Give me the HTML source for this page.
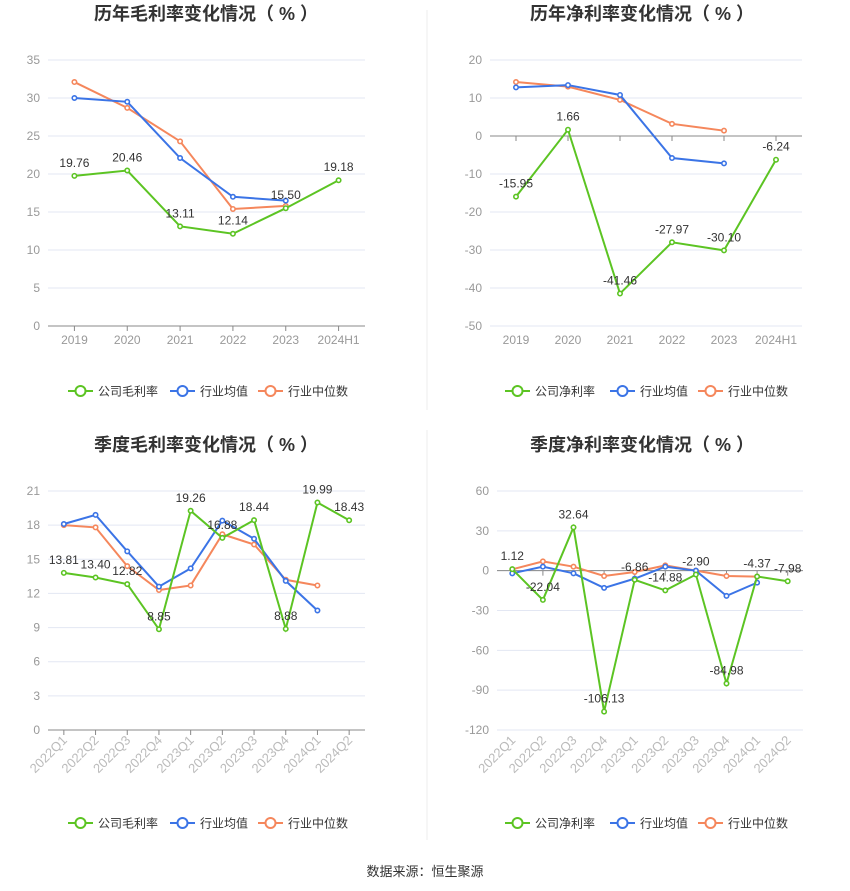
<!DOCTYPE html>
<html><head><meta charset="utf-8">
<style>
body{margin:0;background:#fff;font-family:"Liberation Sans","Noto Sans CJK SC",sans-serif;}
svg{display:block}
</style></head>
<body>
<svg id="s" width="850" height="891" xmlns="http://www.w3.org/2000/svg">
<line x1="427" y1="10" x2="427" y2="410" stroke="#eee"/>
<line x1="427" y1="430" x2="427" y2="840" stroke="#eee"/>
<text x="425" y="876" text-anchor="middle" font-size="13" fill="#333">数据来源：恒生聚源</text>
</svg>
<script>
const c1Cats=["2019","2020","2021","2022","2023","2024H1"];
const c1Company=[19.76,20.46,13.11,12.14,15.50,19.18];
const c1Avg=[30.0,29.5,22.1,17.0,16.5];
const c1Median=[32.1,28.7,24.3,15.4,15.8];
const c1Ticks=[0,5,10,15,20,25,30,35];

const c2Cats=["2019","2020","2021","2022","2023","2024H1"];
const c2Company=[-15.95,1.66,-41.46,-27.97,-30.10,-6.24];
const c2Avg=[12.8,13.4,10.8,-5.8,-7.2];
const c2Median=[14.2,13.0,9.5,3.2,1.4];
const c2Ticks=[-50,-40,-30,-20,-10,0,10,20];

const c3Cats=["2022Q1","2022Q2","2022Q3","2022Q4","2023Q1","2023Q2","2023Q3","2023Q4","2024Q1","2024Q2"];
const c3Company=[13.81,13.40,12.82,8.85,19.26,16.88,18.44,8.88,19.99,18.43];
const c3Avg=[18.1,18.9,15.7,12.6,14.2,18.4,16.8,13.1,10.5];
const c3Median=[18.0,17.8,14.4,12.3,12.7,17.2,16.3,13.2,12.7];
const c3Ticks=[0,3,6,9,12,15,18,21];

const c4Cats=["2022Q1","2022Q2","2022Q3","2022Q4","2023Q1","2023Q2","2023Q3","2023Q4","2024Q1","2024Q2"];
const c4Company=[1.12,-22.04,32.64,-106.13,-6.86,-14.88,-2.90,-84.98,-4.37,-7.98];
const c4Avg=[-2,3,-2,-13,-6,3,0,-19,-9];
const c4Median=[1,7,3,-4,-1,4,0,-4,-4.5];
const c4Ticks=[-120,-90,-60,-30,0,30,60];

const NS="http://www.w3.org/2000/svg";
const svg=document.getElementById('s');
const GREEN="#5cc423",BLUE="#3b74e6",ORANGE="#f5875c";
function mk(tag,attrs,parent){const e=document.createElementNS(NS,tag);for(const k in attrs)e.setAttribute(k,attrs[k]);(parent||svg).appendChild(e);return e;}

function chart(o){
  const g=mk('g',{});
  
  
  const t=mk('text',{x:o.cx,y:o.titleY,'text-anchor':'middle','font-size':18,'font-weight':'bold',fill:'#333'},g);
  t.textContent=o.title;
  
  
  const min=o.ticks[0],max=o.ticks[o.ticks.length-1];
  const y=v=>o.bottom-(v-min)/(max-min)*(o.bottom-o.top);
  const bw=(o.right-o.left)/o.cats.length;
  const x=i=>o.left+bw*(i+0.5);
  o.ticks.forEach(v=>{
    const l=mk('line',{x1:o.left,x2:o.right,y1:y(v),y2:y(v),stroke:'#e3e7f3'},g);
    
    
    const tx=mk('text',{x:o.left-8,y:y(v)+4,'text-anchor':'end','font-size':12,fill:'#999'},g);
    tx.textContent=v;
    
    
  });
  const zy=y(Math.max(min,0));
  const ax=mk('line',{x1:o.left,x2:o.right,y1:zy,y2:zy,stroke:'#888'},g);
  
  
  o.cats.forEach((c,i)=>{
    const tk=mk('line',{x1:x(i),x2:x(i),y1:zy,y2:zy+5,stroke:'#888'},g);
    
    
    let tx;
    if(o.rot){
      tx=mk('text',{x:x(i)+4,y:o.bottom+11,'text-anchor':'end','font-size':13,fill:'#bbb',transform:`rotate(-45 ${x(i)+4} ${o.bottom+11})`},g);
    }else{
      tx=mk('text',{x:x(i),y:o.bottom+18,'text-anchor':'middle','font-size':12,fill:'#999'},g);
    }
    tx.textContent=c;
    
    
  });
  const series=[[o.median,ORANGE,'median-line'],[o.avg,BLUE,'average-line'],[o.company,GREEN,'company-line']];
  series.forEach(([d,col,nm])=>{
    const p=mk('polyline',{points:d.map((v,i)=>x(i)+','+y(v)).join(' '),fill:'none',stroke:col,'stroke-width':2},g);
    
    
    d.forEach((v,i)=>{
      const c=mk('circle',{cx:x(i),cy:y(v),r:2.2,fill:'#fff',stroke:col,'stroke-width':1.6},g);
      
      
    });
  });
  o.company.forEach((v,i)=>{
    const l=mk('text',{x:x(i),y:y(v)-9,'text-anchor':'middle','font-size':12,fill:'#333'},g);
    l.textContent=v.toFixed(2);
    
    
  });
  const names=[o.legend,'行业均值','行业中位数'],cols=[GREEN,BLUE,ORANGE];
  o.legX.forEach((lx,i)=>{
    const lg=mk('g',{},g);
    
    
    mk('line',{x1:lx,x2:lx+25,y1:o.legY,y2:o.legY,stroke:cols[i],'stroke-width':2},lg);
    mk('circle',{cx:lx+12.5,cy:o.legY,r:5,fill:'#fff',stroke:cols[i],'stroke-width':2},lg);
    const tx=mk('text',{x:lx+30,y:o.legY+4.5,'font-size':12,fill:'#333'},lg);
    tx.textContent=names[i];
  });
}
chart({name:'annual-gross-margin-chart',title:'历年毛利率变化情况（ % ）',cx:206,titleY:20,left:48,right:365,top:60,bottom:326,cats:c1Cats,company:c1Company,avg:c1Avg,median:c1Median,ticks:c1Ticks,legend:'公司毛利率',legX:[68,170,258],legY:391});
chart({name:'annual-net-margin-chart',title:'历年净利率变化情况（ % ）',cx:642,titleY:20,left:490,right:802,top:60,bottom:326,cats:c2Cats,company:c2Company,avg:c2Avg,median:c2Median,ticks:c2Ticks,legend:'公司净利率',legX:[505,610,698],legY:391});
chart({name:'quarterly-gross-margin-chart',title:'季度毛利率变化情况（ % ）',cx:206,titleY:451,left:48,right:365,top:491,bottom:730,cats:c3Cats,company:c3Company,avg:c3Avg,median:c3Median,ticks:c3Ticks,legend:'公司毛利率',legX:[68,170,258],legY:823,rot:true});
chart({name:'quarterly-net-margin-chart',title:'季度净利率变化情况（ % ）',cx:642,titleY:451,left:497,right:803,top:491,bottom:730,cats:c4Cats,company:c4Company,avg:c4Avg,median:c4Median,ticks:c4Ticks,legend:'公司净利率',legX:[505,610,698],legY:823,rot:true});
</script>
</body></html>
